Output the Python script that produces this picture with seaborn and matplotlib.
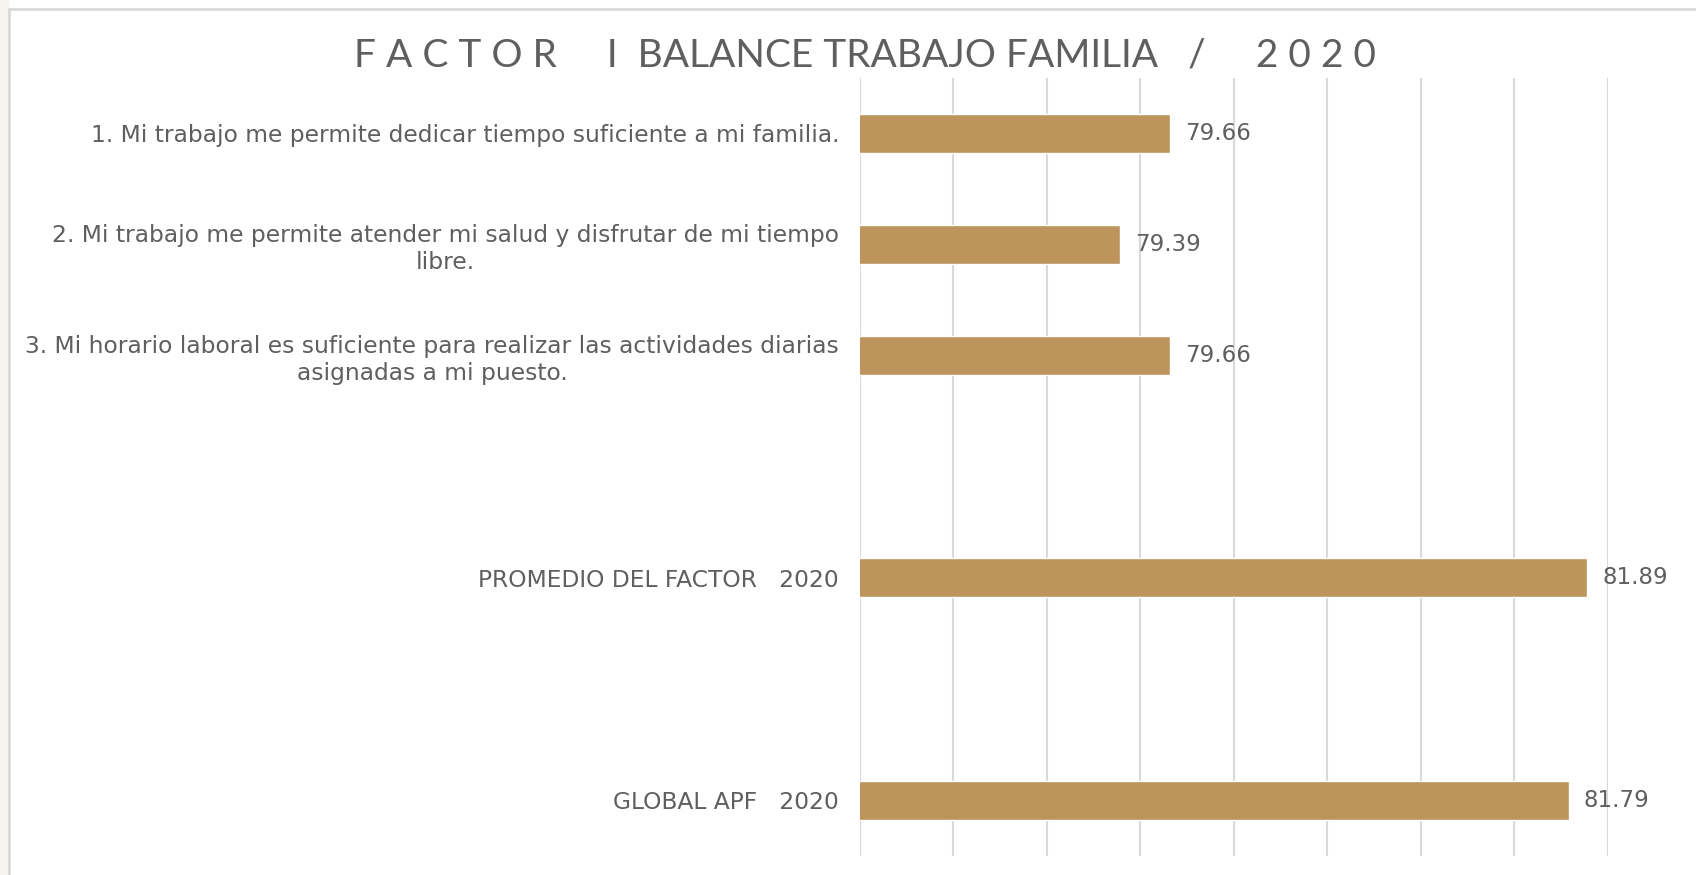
import pandas as pd
import matplotlib.pyplot as plt
import seaborn as sns
from matplotlib.patches import Rectangle
from matplotlib.lines import Line2D

# chart data
preguntas = [
    "1. Mi trabajo me permite dedicar tiempo suficiente a mi familia.",
    "2. Mi trabajo me permite atender mi salud y disfrutar de mi tiempo\nlibre.",
    "3. Mi horario laboral es suficiente para realizar las actividades diarias\nasignadas a mi puesto.",
    "PROMEDIO DEL FACTOR   2020",
    "GLOBAL APF   2020",
]
valores = [79.66, 79.39, 79.66, 81.89, 81.79]
# blank slots between the question block and the averages
orden = [preguntas[0], preguntas[1], preguntas[2], " ", preguntas[3], "  ", preguntas[4]]
titulo = "F A C T O R     I  BALANCE TRABAJO FAMILIA   /     2 0 2 0"

df = pd.DataFrame({"pregunta": preguntas, "valor": valores})

sns.set_theme(style="white")
plt.rcParams['font.family'] = ['DejaVu Sans']

gris = "#5f5f5f"
fig = plt.figure(figsize=(16.96, 8.75), dpi=100)
ax = fig.add_axes([0.507, 0.022, 0.441, 0.889])

sns.barplot(data=df, x="valor", y="pregunta", order=orden, color="#BC945C",
            width=0.35, saturation=1, ax=ax)

ax.set_xlim(78, 82)
ax.set_xticks([78 + 0.5 * i for i in range(9)])
ax.xaxis.grid(True, color="#d9d9d9", linewidth=1.5)
ax.set_axisbelow(True)
ax.tick_params(axis="x", length=0, labelbottom=False)
ax.tick_params(axis="y", length=0, pad=15, labelsize=16.8, labelcolor=gris)
for t in ax.get_yticklabels():
    t.set_multialignment("center")
for s in ax.spines.values():
    s.set_visible(False)
ax.set_xlabel("")
ax.set_ylabel("")

for c in ax.containers:
    ax.bar_label(c, fmt="%.2f", padding=11, fontsize=16.5, color=gris)

fig.text(0.51, 0.937, titulo, ha="center", va="center", fontsize=28,
         color=gris, family=["Lato", "DejaVu Sans"])

# frame and faint left strip
fig.patches.append(Rectangle((0, 0), 0.005, 1, transform=fig.transFigure,
                             color="#f6f4ec", zorder=0))
fig.lines.append(Line2D([0.0055, 0.0055], [0, 0.99], transform=fig.transFigure,
                        color="#d9d9d9", linewidth=2))
fig.lines.append(Line2D([0.0055, 1], [0.99, 0.99], transform=fig.transFigure,
                        color="#d9d9d9", linewidth=2))

fig.savefig("out.png", dpi=100)
